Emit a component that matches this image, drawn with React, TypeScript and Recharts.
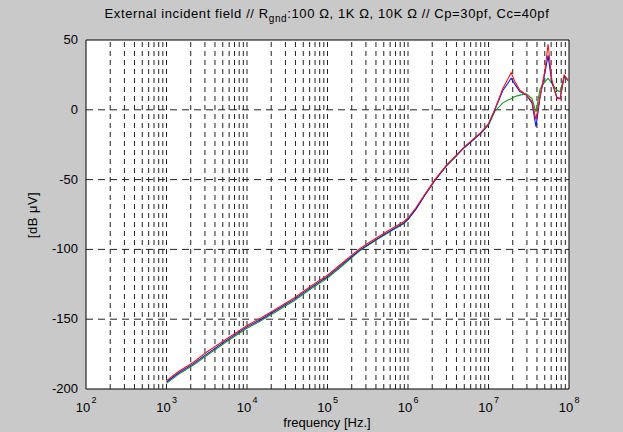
import React from 'react';
import { LineChart, Line, XAxis, YAxis, CartesianGrid, ReferenceLine, ReferenceArea } from 'recharts';

const freqs = [
  1.0e3, 1.41e3, 2.14e3, 3.16e3, 5.62e3, 1.0e4, 1.45e4, 2.24e4, 3.8e4, 6.31e4,
  1.0e5, 1.58e5, 2.51e5, 3.98e5, 6.31e5, 8.91e5, 1.0e6, 1.26e6, 1.58e6, 2.19e6,
  3.02e6, 3.98e6, 5.01e6, 6.31e6, 7.94e6, 1.0e7, 1.2e7, 1.51e7, 1.74e7, 1.91e7,
  2.14e7, 2.45e7, 2.95e7, 3.47e7, 3.89e7, 4.37e7, 5.01e7, 5.5e7, 6.1e7, 7.08e7,
  7.76e7, 8.71e7, 9.77e7,
];
const blue = [
  -195, -188.5, -182, -175, -165, -155.5, -150.5, -144, -136, -127,
  -119.5, -110, -100.5, -93, -86, -81, -78.5, -71, -62, -50,
  -40, -33, -27, -22, -17, -10.5, 0, 14, 19, 22.6,
  18, 13, 10.6, 5, -12, 9, 26, 39, 20, 9,
  8, 24, 21,
];
const red = [
  -194, -187.5, -181, -173.5, -164, -154.5, -149.5, -143, -135, -126,
  -118.5, -109, -99.5, -92, -85, -80, -77.5, -70, -61.5, -49.5,
  -39.5, -32.5, -26.5, -21.5, -16.5, -10, 0.5, 15.5, 22, 26.6,
  20, 14, 10.6, 6, -7, 10, 28, 47, 22, 8,
  8, 25, 21,
];
const green = [
  -196, -189.5, -183, -176, -166, -156.5, -151.5, -145, -137, -128,
  -120.5, -111, -101, -93.5, -86.5, -81.5, -78.5, -71, -62, -50,
  -40, -33, -27, -22, -17, -11, -1, 5, 7, 8,
  9.5, 10.5, 11.5, 8, -1.5, 15, 20, 22.5, 19, 14,
  13, 24, 21,
];
const xTicks = [1e2, 1e3, 1e4, 1e5, 1e6, 1e7, 1e8];
const yTicks = [-200, -150, -100, -50, 0, 50];
const minorMultipliers = [1, 2, 3, 4, 5, 6, 7, 8, 9];
const decades = [1e2, 1e3, 1e4, 1e5, 1e6, 1e7];

const data = freqs.map((f, i) => ({ f, blue: blue[i], red: red[i], green: green[i] }));
const gridXs: number[] = [];
decades.forEach((d) => minorMultipliers.forEach((m) => {
  const v = m * d;
  if (v > 1e2 && v < 1e8) gridXs.push(v);
}));

const FONT = '"Liberation Sans", Arial, sans-serif';

const XTick = (props: any) => {
  const { x, y, payload } = props;
  const e = Math.round(Math.log10(payload.value));
  return (
    <g>
      <text x={x - 3} y={y + 15} textAnchor="middle" fontFamily={FONT} fontSize={13} fill="#000">10</text>
      <text x={x + 8} y={y + 6} textAnchor="middle" fontFamily={FONT} fontSize={9} fill="#000">{e}</text>
    </g>
  );
};

const YTick = (props: any) => {
  const { x, y, payload } = props;
  return (
    <text x={x} y={y + 4} textAnchor="end" fontFamily={FONT} fontSize={13} fill="#000">{payload.value}</text>
  );
};

export default function App() {
  return (
    <div style={{ position: 'absolute', left: 0, top: 0, width: 623, height: 432, background: '#c9c9c9', fontFamily: FONT }}>
      <svg width={623} height={432} style={{ position: 'absolute', left: 0, top: 0, pointerEvents: 'none' }}>
        <text x={327} y={18} textAnchor="middle" fontFamily={FONT} fontSize={13} letterSpacing={0.6} fill="#000">
          External incident field // R<tspan dy={4} fontSize={10}>gnd</tspan><tspan dy={-4}>:100 Ω, 1K Ω, 10K Ω // Cp=30pf, Cc=40pf</tspan>
        </text>
        <text x={327} y={427} textAnchor="middle" fontFamily={FONT} fontSize={13} fill="#000">frequency [Hz.]</text>
        <text x={0} y={0} transform="translate(37,215) rotate(-90)" textAnchor="middle" fontFamily={FONT} fontSize={13} letterSpacing={0.5} fill="#000">[dB μV]</text>
      </svg>
      <LineChart
        width={623}
        height={432}
        data={data}
        margin={{ top: 40, right: 54, bottom: 13, left: 26 }}
        style={{ position: 'absolute', left: 0, top: 0 }}
      >
        <CartesianGrid fill="#fff" vertical={false} stroke="#222" strokeDasharray="7 5" horizontalValues={[-150, -100, -50, 0]} />
        {gridXs.map((v) => (
          <ReferenceLine key={v} x={v} stroke="#222" strokeDasharray="5 4" ifOverflow="hidden" />
        ))}
        <XAxis
          dataKey="f"
          type="number"
          scale="log"
          domain={[1e2, 1e8]}
          ticks={xTicks}
          tick={<XTick />}
          tickLine={false}
          axisLine={false}
          height={30}
          allowDataOverflow
          interval={0}
        />
        <YAxis
          type="number"
          domain={[-200, 50]}
          ticks={yTicks}
          tick={<YTick />}
          tickLine={false}
          axisLine={false}
          width={60}
          allowDataOverflow
          interval={0}
        />
        <Line type="linear" dataKey="green" stroke="#1a9a1a" strokeWidth={1.1} dot={false} isAnimationActive={false} />
        <Line type="linear" dataKey="blue" stroke="#1010ee" strokeWidth={1.1} dot={false} isAnimationActive={false} />
        <Line type="linear" dataKey="red" stroke="#ee1c1c" strokeWidth={1.1} dot={false} isAnimationActive={false} />
        <ReferenceArea x1={1e2} x2={1e8} y1={-200} y2={50} fill="none" stroke="#000" strokeWidth={1} ifOverflow="visible" />
      </LineChart>
    </div>
  );
}
